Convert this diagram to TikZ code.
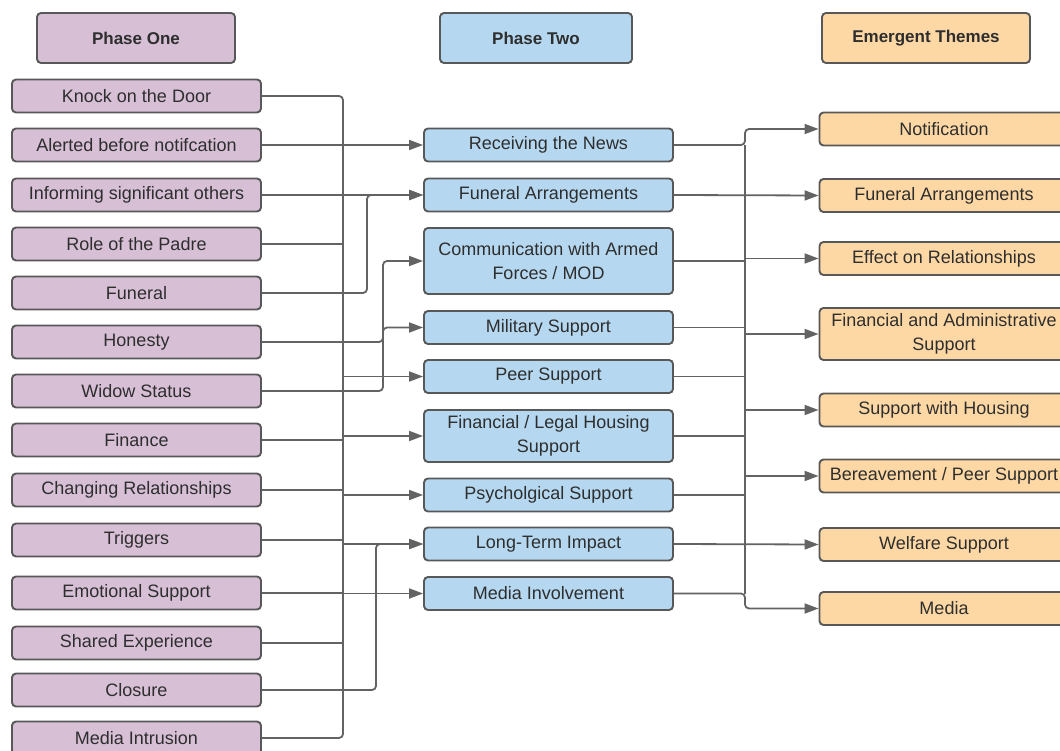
\documentclass[tikz,border=0pt]{standalone}
\usepackage{fontspec}
\setmainfont{Liberation Sans}
\usetikzlibrary{arrows.meta}
\definecolor{pone}{HTML}{D7BFD6}
\definecolor{ptwo}{HTML}{B5D8F0}
\definecolor{theme}{HTML}{FDD8A5}
\definecolor{rim}{HTML}{585858}
\definecolor{linec}{HTML}{636363}
\definecolor{txt}{HTML}{2E2E2E}
\tikzset{
  box/.style={draw=rim, line width=1.9pt, rounded corners=4pt, inner sep=0pt,
    text=txt, align=center, font=\fontsize{18}{24}\selectfont,
    minimum width=249pt, minimum height=33pt},
  hdr/.style={box, minimum height=50pt, font=\fontsize{17}{20}\selectfont\bfseries},
  conn/.style={draw=linec, line width=1.8pt},
  arr/.style={conn, -{Triangle[length=14pt,width=10pt]}},
}

\begin{document}
\begin{tikzpicture}[x=1pt,y=-1pt]
\useasboundingbox (0,0) rectangle (1060,751);
\clip (0,0) rectangle (1060,751);

% headers
\node[hdr, fill=pone, minimum width=198pt] (h1) at (136,38) {Phase One};
\node[hdr, fill=ptwo, minimum width=192pt] (h2) at (536,38) {Phase Two};
\node[hdr, fill=theme, minimum width=208pt] (h3) at (926,38) {Emergent Themes};

% phase one
\foreach \y/\t [count=\i] in {96/Knock on the Door, 145/Alerted before notifcation,
  195/Informing significant others, 244/Role of the Padre, 293/Funeral,
  342/Honesty, 391/Widow Status, 440/Finance, 490/Changing Relationships,
  540/Triggers, 593/Emotional Support, 643/Shared Experience, 690/Closure,
  738/Media Intrusion} {
  \node[box, fill=pone] (l\i) at (136.5,\y) {\t};
}

% phase two
\node[box, fill=ptwo] (m1) at (548.5,145) {Receiving the News};
\node[box, fill=ptwo] (m2) at (548.5,195) {Funeral Arrangements};
\node[box, fill=ptwo, minimum height=66pt] (m3) at (548.5,261) {Communication with Armed\\Forces / MOD};
\node[box, fill=ptwo] (m4) at (548.5,327.5) {Military Support};
\node[box, fill=ptwo] (m5) at (548.5,376.5) {Peer Support};
\node[box, fill=ptwo, minimum height=52pt] (m6) at (548.5,436) {Financial / Legal Housing\\Support};
\node[box, fill=ptwo] (m7) at (548.5,495) {Psycholgical Support};
\node[box, fill=ptwo] (m8) at (548.5,544) {Long-Term Impact};
\node[box, fill=ptwo] (m9) at (548.5,593.5) {Media Involvement};

% emergent themes
\node[box, fill=theme] (r1) at (944,129) {Notification};
\node[box, fill=theme] (r2) at (944,195.5) {Funeral Arrangements};
\node[box, fill=theme] (r3) at (944,258.5) {Effect on Relationships};
\node[box, fill=theme, minimum height=52pt] (r4) at (944,334) {Financial and Administrative\\Support};
\node[box, fill=theme] (r5) at (944,410) {Support with Housing};
\node[box, fill=theme] (r6) at (944,476) {Bereavement / Peer Support};
\node[box, fill=theme] (r7) at (944,544.5) {Welfare Support};
\node[box, fill=theme] (r8) at (944,608.5) {Media};

% buses
\coordinate (lbus) at (343,0);
\coordinate (lbusa) at (367,0);
\coordinate (lbusc) at (376,0);
\coordinate (lbusb) at (383,0);
\coordinate (rbus) at (745,0);

% phase one -> phase two
\draw[conn, rounded corners=4pt] (l1.east) -| (lbus |- l14.east) -- (l14.east);
\foreach \i in {2,...,13} {
  \draw[conn] (l\i.east) -- (lbus |- l\i.east);
}
\foreach \j in {1,2,5,6,7,8,9} {
  \draw[arr] (lbus |- m\j.west) -- (m\j.west);
}
\draw[arr, rounded corners=4pt] (l5.east) -| (lbusa |- m2.west) -- (m2.west);
\draw[arr, rounded corners=4pt] (l7.east) -| (lbusb |- m3.west) -- (m3.west);
\draw[arr, rounded corners=4pt] (l6.east) -| (lbusb |- m4.west) -- (m4.west);
\draw[arr, rounded corners=4pt] (l13.east) -| (lbusc |- m8.west) -- (m8.west);

% phase two -> themes
\draw[arr, rounded corners=4pt] (m1.east) -| (rbus |- r1.west) -- (r1.west);
\draw[arr, rounded corners=4pt] (m9.east) -| (rbus |- r8.west) -- (r8.west);
\draw[conn] (rbus |- m1.east) -- (rbus |- m9.east);
\foreach \j in {3,...,7} {
  \draw[conn] (m\j.east) -- (rbus |- m\j.east);
}
\draw[arr] (m2.east) -- (r2.west);
\draw[arr] (m8.east) -- (r7.west);
\foreach \k in {3,...,6} {
  \draw[arr] (rbus |- r\k.west) -- (r\k.west);
}
\end{tikzpicture}
\end{document}
